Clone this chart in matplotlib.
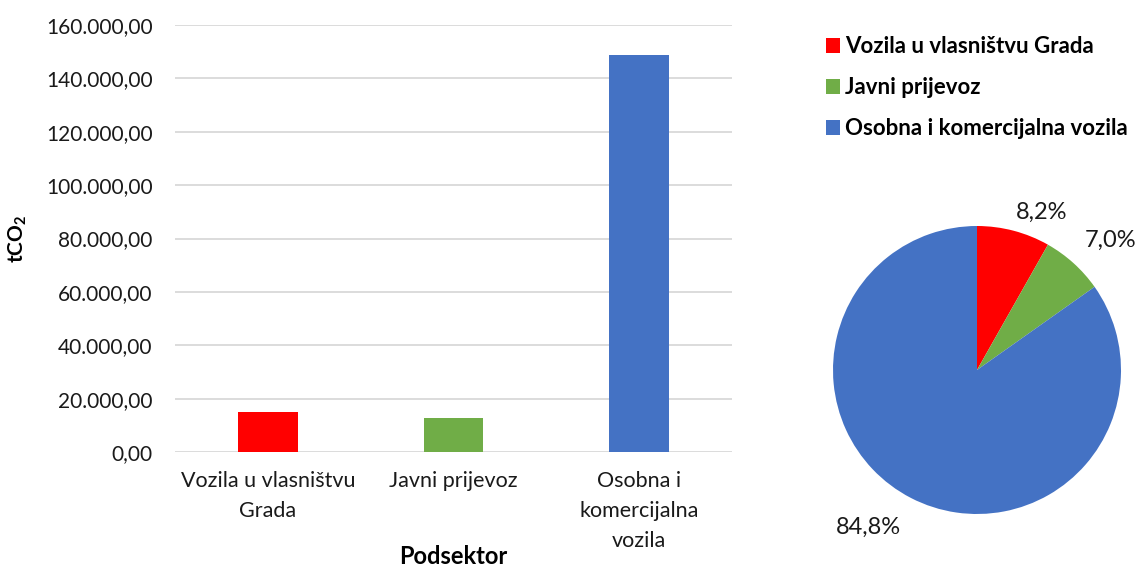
import matplotlib
matplotlib.use('Agg')
import matplotlib.pyplot as plt
from matplotlib.ticker import FuncFormatter
import numpy as np

plt.rcParams['font.family'] = ['Lato', 'DejaVu Sans']
plt.rcParams['mathtext.fontset'] = 'custom'
plt.rcParams['mathtext.rm'] = 'Lato'
plt.rcParams['mathtext.bf'] = 'Lato:bold'

# data
categories = ['Vozila u vlasništvu Grada', 'Javni prijevoz', 'Osobna i komercijalna vozila']
bar_labels = ['Vozila u vlasništvu\nGrada', 'Javni prijevoz', 'Osobna i\nkomercijalna\nvozila']
emissions = [14870, 12730, 148580]          # tCO2
pie_share = [8.2, 7.0, 84.8]                # %
colors = ['#FF0000', '#70AD47', '#4472C4']

W, H = 1142, 569
fig = plt.figure(figsize=(W / 100, H / 100), dpi=100)


def px_axes(x0, y0, x1, y1):
    # axes from pixel box (top-left origin)
    return fig.add_axes([x0 / W, 1 - y1 / H, (x1 - x0) / W, (y1 - y0) / H])


#######################################################################################################################
# bar chart

ax = px_axes(175, 25, 732, 452)
x = np.arange(len(categories))
ax.bar(x, emissions, width=0.32, color=colors, zorder=3)
ax.set_xlim(-0.5, 2.5)
ax.set_ylim(0, 160000)
ax.set_yticks(np.arange(0, 160001, 20000))
ax.yaxis.set_major_formatter(FuncFormatter(
    lambda v, p: '{:,.2f}'.format(v).replace(',', 'X').replace('.', ',').replace('X', '.')))
ax.set_xticks(x)
ax.set_xticklabels(bar_labels, linespacing=1.6)
ax.grid(axis='y', color='#D9D9D9', lw=1.3, zorder=0)
for s in ax.spines.values():
    s.set_visible(False)
ax.tick_params(axis='y', length=0, pad=16, labelsize=15, colors='#1a1a1a')
ax.tick_params(axis='x', length=0, pad=14, labelsize=15.5, colors='#1a1a1a')
ax.set_ylabel(r'$\mathbf{tCO_2}$', fontsize=15, labelpad=12)
ax.set_xlabel('Podsektor', fontsize=17, fontweight='bold')
ax.xaxis.set_label_coords(0.5, -0.218)

#######################################################################################################################
# pie chart

cx, cy, r = 977, 370, 144
pax = px_axes(cx - r, cy - r, cx + r, cy + r)
wedges, _ = pax.pie(pie_share, colors=colors, startangle=90, counterclock=False, radius=1,
                    wedgeprops=dict(linewidth=0))
pax.set_xlim(-1, 1)
pax.set_ylim(-1, 1)

label_dist = [1.06, 1.12, 1.15]
for w, share, d in zip(wedges, pie_share, label_dist):
    ang = np.deg2rad((w.theta1 + w.theta2) / 2)
    cs, sn = np.cos(ang), np.sin(ang)
    pax.text(d * cs, d * sn, '{:.1f}%'.format(share).replace('.', ','),
             ha='left' if cs > 0 else 'right', va='bottom' if sn > 0 else 'top',
             fontsize=17, color='#1a1a1a', clip_on=False)

fig.legend(wedges, categories, loc='upper left', bbox_to_anchor=(806 / W, 1 - 16 / H),
           frameon=False, handlelength=0.65, handleheight=0.65, handletextpad=0.2,
           labelspacing=0.9, prop=dict(family='Lato', weight='bold', size=16))

fig.savefig('out.png', dpi=100)
